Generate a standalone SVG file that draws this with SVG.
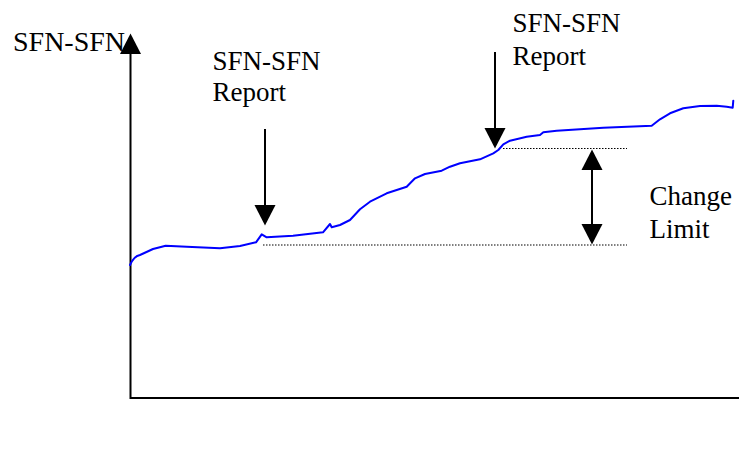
<svg xmlns="http://www.w3.org/2000/svg" width="739" height="459" viewBox="0 0 739 459">
  <style>
    .lbl { font-family: "Liberation Serif", "Times New Roman", serif; font-size: 27px; fill: #000; }
    .ax { stroke: #000; stroke-width: 2; fill: none; }
    .arr { stroke: #000; stroke-width: 2; fill: none; }
    .dot { stroke: #000; stroke-width: 1.2; stroke-dasharray: 1.5 1.5; fill: none; }
    .curve { stroke: #0000ff; stroke-width: 2; fill: none; stroke-linejoin: round; stroke-linecap: round; }
  </style>
  <defs>
    <marker id="ah" viewBox="0 -11 21 22" refX="0" refY="0" markerWidth="21" markerHeight="22" markerUnits="userSpaceOnUse" orient="auto-start-reverse">
      <path d="M0,-10.5 L20.5,0 L0,10.5 Z" fill="#000"/>
    </marker>
  </defs>
  <rect width="739" height="459" fill="#fff"/>

  <g id="label-axis">
    <text class="lbl" x="13" y="50.5" style="font-size:28px">SFN-SFN</text>
  </g>

  <g id="axes">
    <path class="ax" d="M130.5,54 L130.5,398 L739,398" marker-start="url(#ah)"/>
  </g>

  <g id="curve">
    <path class="curve" d="M130,265 Q134,256 140,255 L153,249 L165.7,245.7 L186.7,246.7 L220,248.3 L240,246 L256,242.3 L261.7,234.3 L266.7,237.3 L293,235.7 L323,232.3 L330,224 L331.7,227.3 L340,225 L350,220 L360,209.3 L370,201.7 L386.7,193.3 L406.7,186.7 L415,178.3 L425,174 L441.7,170.7 L450,166.7 L460,163.3 L480,159.3 L493.3,153.3 L498.3,150 L503.3,144.3 L510,140.7 L526.7,136.7 L540,135 L543.3,132.3 L556.7,130.7 L603.3,127.7 L651.7,125.7 L660,119.3 L670,113.3 L683.3,108.3 L700,106 L716.7,105.7 L726.7,106.7 L732.7,107.7 L733.3,100.7"/>
  </g>

  <g id="limits">
    <line class="dot" x1="503" y1="148.5" x2="627" y2="148.5"/>
    <line class="dot" x1="263" y1="245" x2="627" y2="245"/>
  </g>

  <g id="connectors">
    <line class="arr" x1="265" y1="129" x2="265" y2="205" marker-end="url(#ah)"/>
    <line class="arr" x1="495" y1="52" x2="495" y2="128" marker-end="url(#ah)"/>
    <line class="arr" x1="592" y1="170" x2="592" y2="224" marker-start="url(#ah)" marker-end="url(#ah)"/>
  </g>

  <g id="label-report1">
    <text class="lbl" x="212.5" y="69.5">SFN-SFN</text>
    <text class="lbl" x="212.5" y="101">Report</text>
  </g>
  <g id="label-report2">
    <text class="lbl" x="512.5" y="32">SFN-SFN</text>
    <text class="lbl" x="512.5" y="64.5">Report</text>
  </g>
  <g id="label-change">
    <text class="lbl" x="649.5" y="205">Change</text>
    <text class="lbl" x="649.5" y="238">Limit</text>
  </g>
</svg>
